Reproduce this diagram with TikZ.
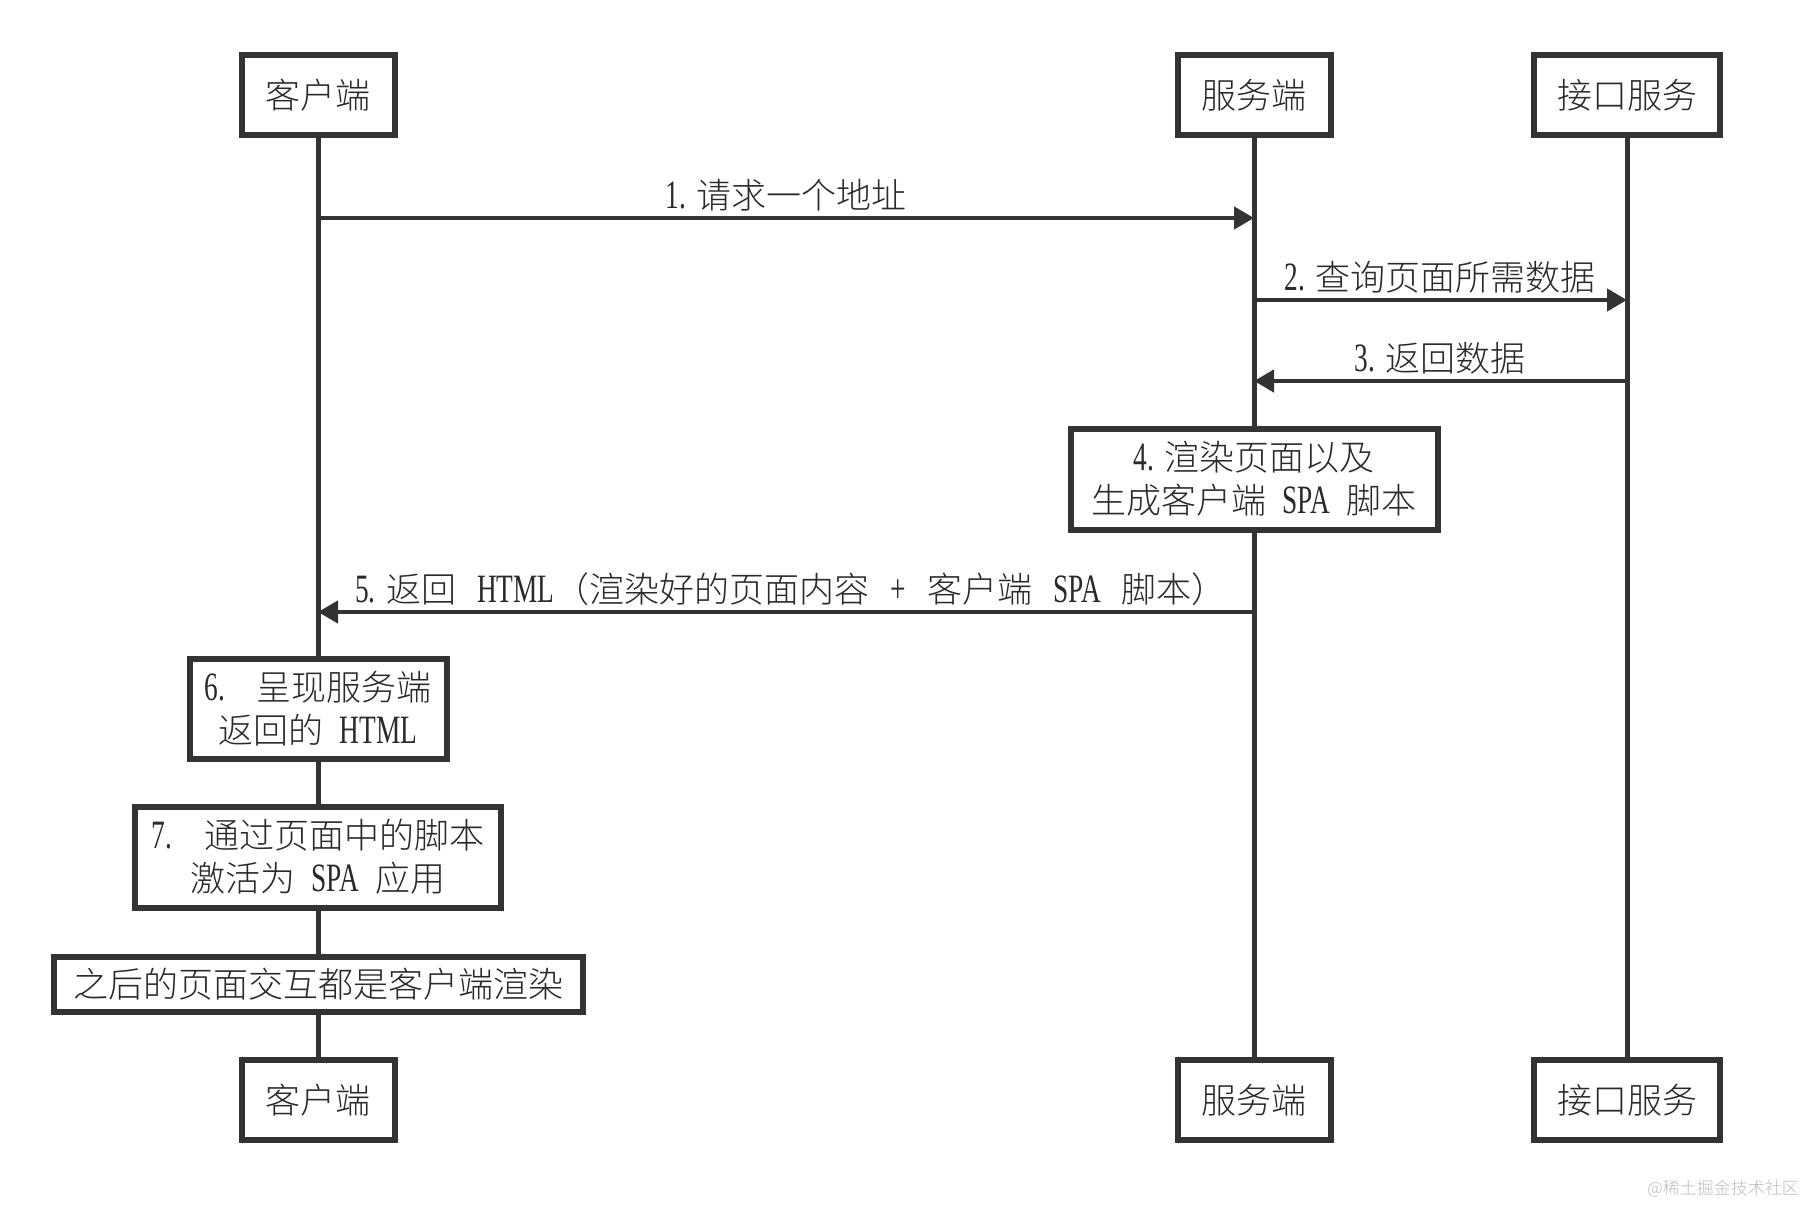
\documentclass[tikz,border=0pt]{standalone}
\usepackage{fontspec}
\setmainfont{Noto Sans CJK SC}[UprightFont=* Light]
\newfontfamily\latf[FakeStretch=0.68,Scale=1.15]{Liberation Serif}
\usetikzlibrary{arrows.meta,backgrounds}
\definecolor{lc}{HTML}{333333}
\definecolor{tc}{HTML}{2A2A2A}
\definecolor{wm}{HTML}{BDBDBD}
\newcommand{\gp}{\hspace{0.3em}}
\newcommand{\wgp}{\hspace{0.45em}}
\newcommand{\xgp}{\hspace{0.6em}}
\newcommand{\latx}[1]{{\latf #1}}
\newcommand{\fs}{\fontsize{35}{43}\selectfont}
\begin{document}
\begin{tikzpicture}[x=1pt,y=-1pt,
  actor/.style={draw=lc,line width=6pt,fill=white,minimum width=153pt,minimum height=80pt,inner sep=0pt,font=\fs,text=tc},
  note/.style={draw=lc,line width=6pt,fill=white,align=center,inner sep=0pt,font=\fs,text=tc},
  life/.style={draw=lc,line width=5pt},
  msg/.style={draw=lc,line width=4.5pt,-{Triangle[length=20pt,width=22pt]}},
  lbl/.style={font=\fs,text=tc,inner sep=0pt}]
\useasboundingbox (0,0) rectangle (1809,1206);
% participants
\node[actor] (ct) at (318,95) {客户端};
\node[actor] (st) at (1254,95) {服务端};
\node[actor,minimum width=186pt] (at) at (1627,95) {接口服务};
\node[actor] (cb) at (318,1100) {客户端};
\node[actor] (sb) at (1254,1100) {服务端};
\node[actor,minimum width=186pt] (ab) at (1627,1100) {接口服务};
% lifelines
\begin{scope}[on background layer]
\fill[white] (0,0) rectangle (1809,1206);
\draw[life] (ct.south) -- (cb.north);
\draw[life] (st.south) -- (sb.north);
\draw[life] (at.south) -- (ab.north);
\end{scope}
% notes
\node[note,minimum width=367pt,minimum height=101pt] (n4) at (1254,479) {\latx{4.}\gp{}渲染页面以及\\生成客户端\wgp{}\latx{SPA}\wgp{}脚本};
\node[note,minimum width=257pt,minimum height=100pt] (n6) at (318,709) {\latx{6.}\hspace{0.9em}{}呈现服务端\\返回的\wgp{}\latx{HTML}};
\node[note,minimum width=366pt,minimum height=101pt] (n7) at (318,857) {\latx{7.}\hspace{0.9em}{}通过页面中的脚本\\激活为\wgp{}\latx{SPA}\wgp{}应用};
\node[note,minimum width=529pt,minimum height=55pt] (n8) at (318,984) {之后的页面交互都是客户端渲染};
% message anchor points
\coordinate (c1) at (318,218);
\coordinate (s1) at (1254,218);
\coordinate (s2) at (1254,300);
\coordinate (a2) at (1627,300);
\coordinate (a3) at (1627,381);
\coordinate (s3) at (1254,381);
\coordinate (s5) at (1254,612);
\coordinate (c5) at (318,612);
\draw[msg] (c1) -- (s1);
\draw[msg] (s2) -- (a2);
\draw[msg] (a3) -- (s3);
\draw[msg] (s5) -- (c5);
% labels
\node[lbl] (l1) at (786,195) {\latx{1.}\gp{}请求一个地址};
\node[lbl] (l2) at (1440,277) {\latx{2.}\gp{}查询页面所需数据};
\node[lbl] (l3) at (1440,358) {\latx{3.}\gp{}返回数据};
\node[lbl] (l5) at (791,589) {\latx{5.}\gp{}返回\xgp{}\latx{HTML}（渲染好的页面内容\xgp{}\latx{+}\xgp{}客户端\xgp{}\latx{SPA}\xgp{}脚本）};
% watermark
\node[font=\fontsize{17}{17}\selectfont,text=wm,inner sep=0pt] (wmk) at (1723,1189) {@稀土掘金技术社区};
\end{tikzpicture}
\end{document}
